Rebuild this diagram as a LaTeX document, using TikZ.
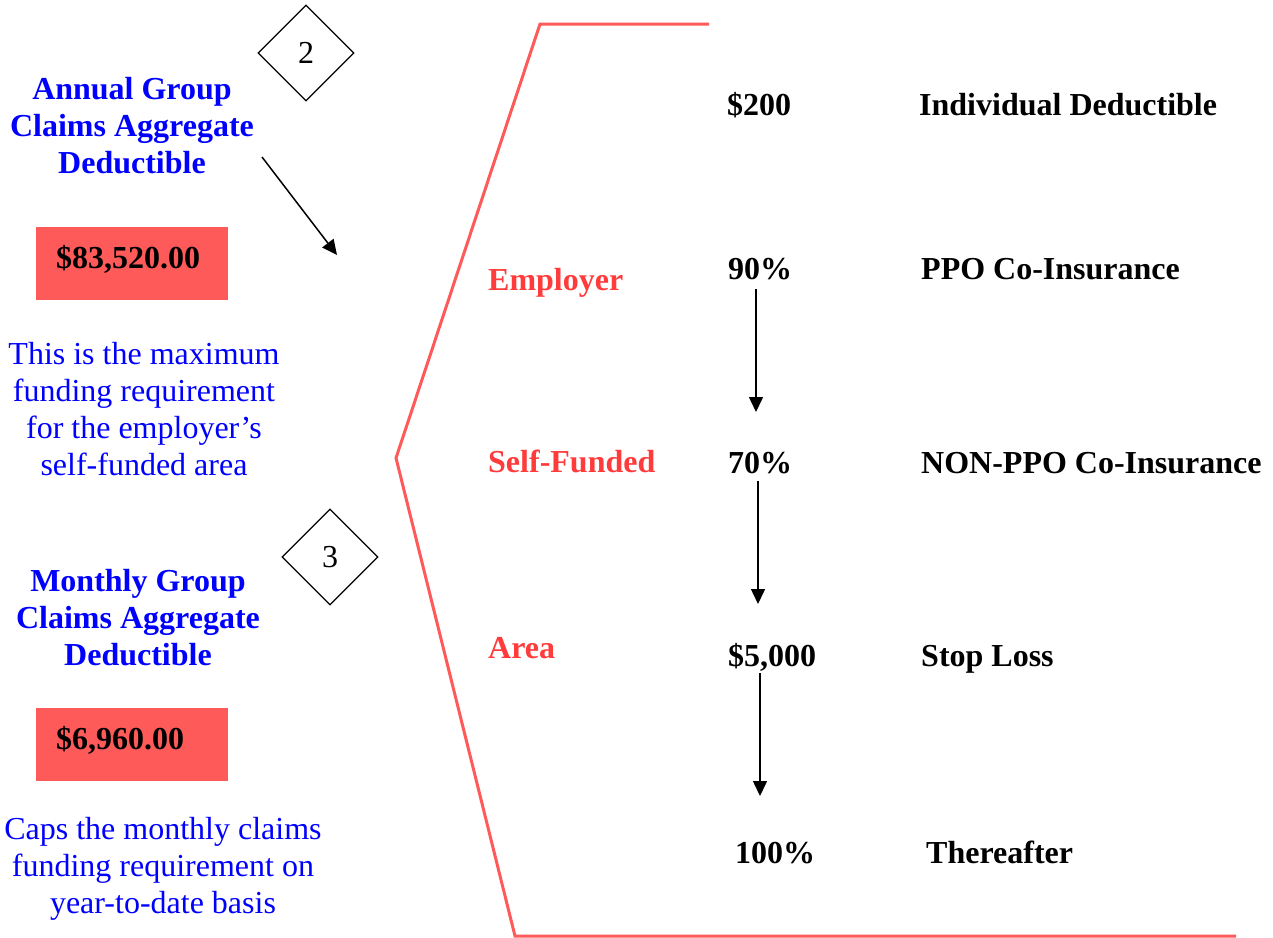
\documentclass[tikz,border=0pt]{standalone}
\usepackage{fontspec}
\setmainfont{Liberation Serif}
\usetikzlibrary{shapes.geometric,arrows.meta}
\definecolor{linered}{HTML}{FF5A5A}
\definecolor{textred}{HTML}{FF3B3B}
\definecolor{txtblue}{HTML}{0000FF}
\begin{document}
\begin{tikzpicture}[x=1pt,y=-1pt,
 every node/.style={font=\fontsize{32}{37}\selectfont, inner sep=0pt},
 lbl/.style={font=\fontsize{32}{37}\selectfont\bfseries, anchor=base west},
 rowlbl/.style={lbl, text=textred},
 bluehead/.style={font=\fontsize{32}{37}\selectfont\bfseries, text=txtblue, align=center},
 bluetext/.style={font=\fontsize{32}{37}\selectfont, text=txtblue, align=center},
 redbox/.style={fill=linered, font=\fontsize{32}{37}\selectfont\bfseries, text width=152pt, align=left, inner xsep=20pt, inner ysep=0pt, text height=41pt, text depth=32pt, anchor=north west},
 marker/.style={diamond, draw, line width=1.3pt, minimum width=96pt, minimum height=96pt, aspect=1},
 arr/.style={line width=1.5pt, -{Triangle[length=15pt,width=14pt]}},
 bracket/.style={draw=linered, line width=3pt}
]
\useasboundingbox (0,0) rectangle (1273,937);

% bracket
\coordinate (b1) at (709,24);
\coordinate (b2) at (540,24);
\coordinate (b3) at (396,458);
\coordinate (b4) at (515,936);
\coordinate (b5) at (1236,936);
\draw[bracket] (b1) -- (b2) -- (b3) -- (b4) -- (b5);

% left column
\node[bluehead] (annual) at (132,126) {Annual Group\\Claims Aggregate\\Deductible};
\node[marker] (m2) at (306,53) {2};
\node[redbox] (box1) at (36,227) {\$83,520.00};
\node[bluetext] (note1) at (144,409) {This is the maximum\\funding requirement\\for the employer’s\\self-funded area};
\node[marker] (m3) at (330,557) {3};
\node[bluehead] (monthly) at (138,618) {Monthly Group\\Claims Aggregate\\Deductible};
\node[redbox] (box2) at (36,708) {\$6,960.00};
\node[bluetext] (note2) at (163,869) {Caps the monthly claims\\funding requirement on\\year-to-date basis};

\coordinate (da1) at (262,157);
\coordinate (da2) at (337,255);
\draw[arr] (da1) -- (da2);

% right table
\node[lbl] (d200) at (727,115) {\$200};
\node[lbl] (indiv) at (919,115) {Individual Deductible};
\node[rowlbl] (emp) at (488,290) {Employer};
\node[lbl] (p90) at (728,279) {90\%};
\node[lbl] (ppo) at (921,279) {PPO Co-Insurance};
\node[rowlbl] (sf) at (488,472) {Self-Funded};
\node[lbl] (p70) at (728,473) {70\%};
\node[lbl] (nonppo) at (921,473) {NON-PPO Co-Insurance};
\node[rowlbl] (area) at (488,658) {Area};
\node[lbl] (d5000) at (728,666) {\$5,000};
\node[lbl] (stop) at (921,666) {Stop Loss};
\node[lbl] (p100) at (735,863) {100\%};
\node[lbl] (after) at (926,863) {Thereafter};

\coordinate (v1a) at (756,289);
\coordinate (v1b) at (756,412);
\coordinate (v2a) at (758,481);
\coordinate (v2b) at (758,604);
\coordinate (v3a) at (760,673);
\coordinate (v3b) at (760,796);
\draw[arr] (v1a) -- (v1b);
\draw[arr] (v2a) -- (v2b);
\draw[arr] (v3a) -- (v3b);
\end{tikzpicture}
\end{document}
